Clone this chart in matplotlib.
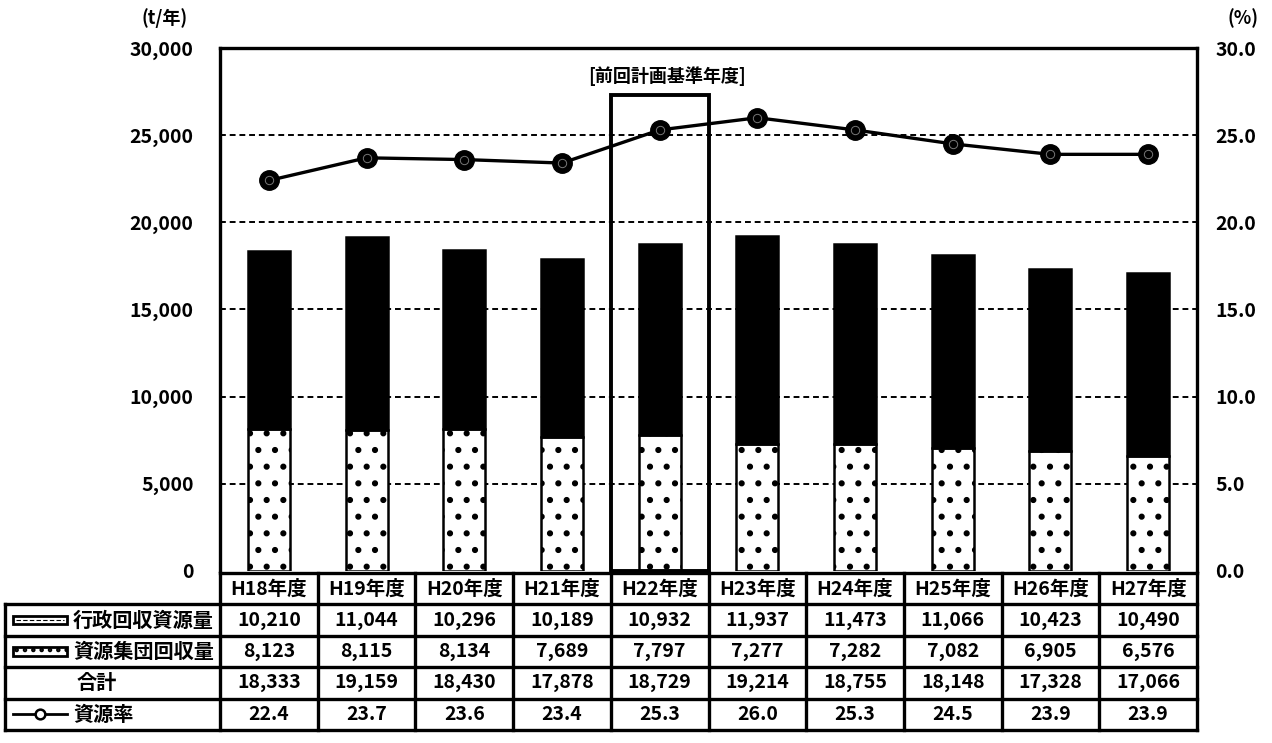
import matplotlib
matplotlib.use("Agg")
import matplotlib.pyplot as plt
from matplotlib.patches import Rectangle
import numpy as np

plt.rcParams['font.family'] = ['Noto Sans CJK JP', 'DejaVu Sans']
plt.rcParams['font.weight'] = 'bold'
plt.rcParams['hatch.linewidth'] = 2.0

# データ
years = ["H18年度", "H19年度", "H20年度", "H21年度", "H22年度",
         "H23年度", "H24年度", "H25年度", "H26年度", "H27年度"]
gyosei = [10210, 11044, 10296, 10189, 10932, 11937, 11473, 11066, 10423, 10490]
shudan = [8123, 8115, 8134, 7689, 7797, 7277, 7282, 7082, 6905, 6576]
goukei = [18333, 19159, 18430, 17878, 18729, 19214, 18755, 18148, 17328, 17066]
shigenritsu = [22.4, 23.7, 23.6, 23.4, 25.3, 26.0, 25.3, 24.5, 23.9, 23.9]
row_labels = ["行政回収資源量", "資源集団回収量", "合計", "資源率"]
base_year = "H22年度"
base_label = "[前回計画基準年度]"

W, H = 1272, 743
fig = plt.figure(figsize=(W / 100, H / 100), dpi=100)

def px(x0, y0, x1, y1):
    return [x0 / W, 1 - y1 / H, (x1 - x0) / W, (y1 - y0) / H]

ax = fig.add_axes(px(220, 48, 1197, 571))
x = np.arange(len(years))
fs = 14

# 棒グラフ（積み上げ）
ax.bar(x, shudan, width=0.43, color="white", edgecolor="black", hatch=".",
       linewidth=1.8, zorder=3)
ax.bar(x, gyosei, bottom=shudan, width=0.43, color="black", edgecolor="black",
       linewidth=1.8, zorder=3)

ax.set_xlim(-0.5, len(years) - 0.5)
ax.set_ylim(0, 30000)
ax.set_yticks(np.arange(0, 30001, 5000))
ax.set_yticklabels([f"{v:,}" for v in range(0, 30001, 5000)], fontsize=fs)
ax.tick_params(axis="y", length=0, pad=19)
ax.set_xticks([])
for v in range(5000, 30000, 5000):
    ax.axhline(v, color="black", linestyle=(0, (3, 2)), linewidth=1.4, zorder=1)
for s in ["left", "top", "right"]:
    ax.spines[s].set_linewidth(2.4)
ax.spines["bottom"].set_visible(False)

# 折れ線（右軸）
ax2 = ax.twinx()
ax2.set_ylim(0, 30)
ax2.set_yticks(np.arange(0, 31, 5))
ax2.set_yticklabels([f"{v:.1f}" for v in range(0, 31, 5)], fontsize=fs)
ax2.tick_params(axis="y", length=0, pad=13)
for s in ax2.spines.values():
    s.set_visible(False)
ax2.plot(x, shigenritsu, color="black", linewidth=2.4, marker="o",
         markersize=14, markerfacecolor="black", markeredgecolor="black", zorder=5)
ax2.plot(x, shigenritsu, linestyle="none", marker="o", markersize=6,
         markerfacecolor="none", markeredgecolor="#777777", markeredgewidth=0.7, zorder=6)

# 基準年度の枠
bi = years.index(base_year)
ax.add_patch(Rectangle((bi - 0.5, 0), 1.0, 27300, fill=False, edgecolor="black",
                       linewidth=2.8, zorder=6, clip_on=False))
ax.text(bi + 0.08, 28400, base_label, ha="center", va="center", fontsize=13)

fig.text(165 / W, 1 - 18 / H, "(t/年)", ha="center", va="center", fontsize=13)
fig.text(1243 / W, 1 - 18 / H, "(%)", ha="center", va="center", fontsize=13)

# データテーブル
tax = fig.add_axes(px(5, 573, 1197, 730))
left = -0.5 - 215 / 97.7
tax.set_xlim(left, len(years) - 0.5)
tax.set_ylim(5, 0)
tax.axis("off")
lw = 2.4
tax.plot([-0.5, len(years) - 0.5], [0, 0], color="black", lw=lw, clip_on=False)
for r in range(1, 6):
    tax.plot([left, len(years) - 0.5], [r, r], color="black", lw=lw, clip_on=False)
for c in range(len(years) + 1):
    tax.plot([c - 0.5, c - 0.5], [0, 5], color="black", lw=lw, clip_on=False)
tax.plot([left, left], [1, 5], color="black", lw=lw, clip_on=False)

rows = [years,
        [f"{v:,}" for v in gyosei],
        [f"{v:,}" for v in shudan],
        [f"{v:,}" for v in goukei],
        [f"{v:.1f}" for v in shigenritsu]]
for r, vals in enumerate(rows):
    for c, t in enumerate(vals):
        tax.text(c, r + 0.5, t, ha="center", va="center", fontsize=fs)

# 凡例を兼ねた行ラベル
sx0 = left + 8 / 97.7
sw = 54 / 97.7
tx = left + 68 / 97.7
tax.add_patch(Rectangle((sx0, 1.36), sw, 0.28, facecolor="white", edgecolor="black",
                        linewidth=2.0, clip_on=False))
tax.plot([sx0 + 0.03, sx0 + sw - 0.03], [1.5, 1.5], color="black", lw=0.8,
         linestyle=(0, (4, 2)), clip_on=False)
tax.add_patch(Rectangle((sx0, 2.36), sw, 0.28, facecolor="white", edgecolor="black",
                        hatch="..", linewidth=2.0, clip_on=False))
tax.text(tx, 1.5, row_labels[0], ha="left", va="center", fontsize=14.5)
tax.text(tx, 2.5, row_labels[1], ha="left", va="center", fontsize=14.5)
tax.text(left + 0.94, 3.5, row_labels[2], ha="center", va="center", fontsize=14.5)
tax.plot([sx0, sx0 + sw], [4.5, 4.5], color="black", lw=2.0, clip_on=False)
tax.plot([sx0 + sw / 2], [4.5], marker="o", markersize=7, markerfacecolor="white",
         markeredgecolor="black", markeredgewidth=1.8, clip_on=False)
tax.text(tx, 4.5, row_labels[3], ha="left", va="center", fontsize=14.5)

fig.savefig("out.png", dpi=100)
